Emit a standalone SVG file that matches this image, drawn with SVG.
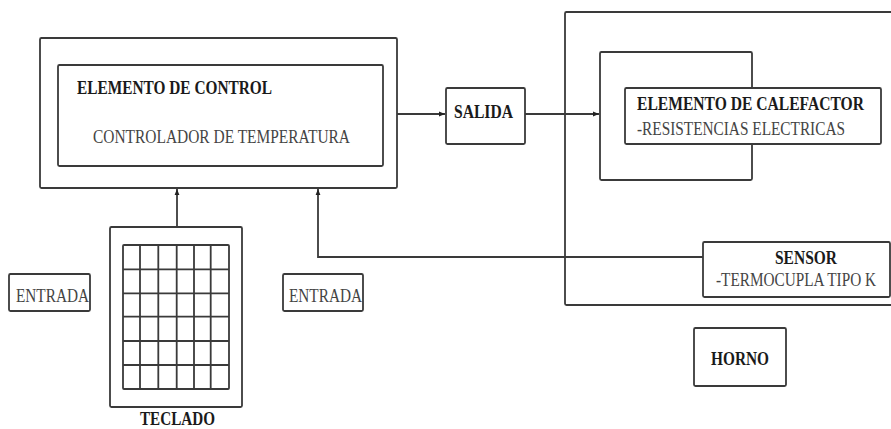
<svg xmlns="http://www.w3.org/2000/svg" width="891" height="429" viewBox="0 0 891 429">
<defs>
<marker id="ah" viewBox="0 0 10 10" refX="10" refY="5" markerWidth="8" markerHeight="6" markerUnits="userSpaceOnUse" orient="auto">
<path d="M0,1 L10,5 L0,9 z" fill="#222"/>
</marker>
</defs>
<style>
.box{fill:#fff;stroke:#3a3a3a;stroke-width:1.8}
.nofill{fill:none;stroke:#3a3a3a;stroke-width:1.8}
.ln{fill:none;stroke:#3a3a3a;stroke-width:1.8}
.b{font-family:"Liberation Serif",serif;font-weight:bold;font-size:18px;fill:#1a1a1a}
.r{font-family:"Liberation Serif",serif;font-size:18px;fill:#444}
</style>
<rect width="891" height="429" fill="#fff"/>
<g id="horno-frame">
<rect class="nofill" x="565" y="12" width="340" height="293" rx="1.5"/>
</g>
<g id="control">
<rect class="box" x="40" y="38" width="357" height="150" rx="1.5"/>
<rect class="box" x="58" y="65" width="325" height="101" rx="1.5"/>
<text class="b" x="77" y="94" textLength="195" lengthAdjust="spacingAndGlyphs">ELEMENTO DE CONTROL</text>
<text class="r" x="93" y="143" textLength="257" lengthAdjust="spacingAndGlyphs">CONTROLADOR DE TEMPERATURA</text>
</g>
<g id="salida">
<rect class="box" x="446" y="88" width="79" height="56" rx="1.5"/>
<text class="b" x="454" y="118" textLength="59" lengthAdjust="spacingAndGlyphs">SALIDA</text>
</g>
<g id="calefactor">
<rect class="box" x="600" y="52" width="152" height="128" rx="1.5"/>
<rect class="box" x="625" y="88" width="256" height="56" rx="1.5"/>
<text class="b" x="637" y="110" textLength="227" lengthAdjust="spacingAndGlyphs">ELEMENTO DE CALEFACTOR</text>
<text class="r" x="637" y="135" textLength="208" lengthAdjust="spacingAndGlyphs">-RESISTENCIAS ELECTRICAS</text>
</g>
<g id="sensor">
<rect class="box" x="703" y="242" width="187" height="55" rx="1.5"/>
<text class="b" x="775" y="264" textLength="62" lengthAdjust="spacingAndGlyphs">SENSOR</text>
<text class="r" x="716" y="286" textLength="160" lengthAdjust="spacingAndGlyphs">-TERMOCUPLA TIPO K</text>
</g>
<g id="horno">
<rect class="box" x="694" y="328" width="92" height="58" rx="1.5"/>
<text class="b" x="711" y="365" textLength="58" lengthAdjust="spacingAndGlyphs">HORNO</text>
</g>
<g id="teclado">
<rect class="box" x="110" y="227" width="132" height="180" rx="1.5"/>
<rect class="nofill" x="123" y="245" width="106" height="144" rx="1"/>
<path class="ln" d="M140,245V389M158.3,245V389M176.7,245V389M194,245V389M210.7,245V389M123,269.3H229M123,293.3H229M123,316.7H229M123,341H229M123,365H229"/>
<text class="b" x="140" y="425" textLength="75" lengthAdjust="spacingAndGlyphs">TECLADO</text>
</g>
<g id="entrada-1">
<rect class="box" x="9" y="274" width="81" height="37" rx="1.5"/>
<text class="r" x="16" y="302" textLength="73" lengthAdjust="spacingAndGlyphs">ENTRADA</text>
</g>
<g id="entrada-2">
<rect class="box" x="283" y="274" width="80" height="37" rx="1.5"/>
<text class="r" x="289" y="302" textLength="73" lengthAdjust="spacingAndGlyphs">ENTRADA</text>
</g>
<g id="connectors">
<path class="ln" d="M397,114H445" marker-end="url(#ah)"/>
<path class="ln" d="M525,114H599" marker-end="url(#ah)"/>
<path class="ln" d="M177,227V189" marker-end="url(#ah)"/>
<path class="ln" d="M703,257H318V189" marker-end="url(#ah)"/>
</g>
</svg>
